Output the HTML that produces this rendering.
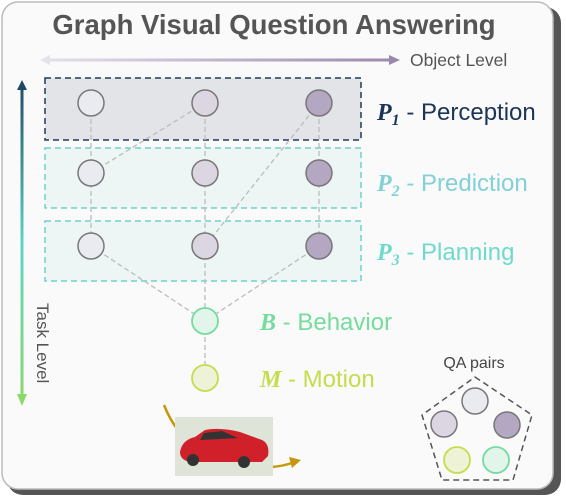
<!DOCTYPE html>
<html><head><meta charset="utf-8"><style>
html,body{margin:0;padding:0;background:#fff;width:566px;height:500px;overflow:hidden}
svg{display:block}
text{font-family:"Liberation Sans",sans-serif}
.m{font-family:"Liberation Serif",serif;font-style:italic;font-weight:bold}
</style></head><body>
<svg width="566" height="500" viewBox="0 0 566 500">
<defs>
<linearGradient id="oh" gradientUnits="userSpaceOnUse" x1="40" y1="0" x2="400" y2="0"><stop offset="0" stop-color="#e4e2ea"/><stop offset="1" stop-color="#9a88ac"/></linearGradient>
<linearGradient id="tv" gradientUnits="userSpaceOnUse" x1="0" y1="80" x2="0" y2="406"><stop offset="0" stop-color="#1f4866"/><stop offset="0.5" stop-color="#5fd4c8"/><stop offset="1" stop-color="#8cd86a"/></linearGradient>
</defs>
<rect x="7" y="7" width="554" height="488" rx="16" fill="#555"/>
<rect x="2" y="2" width="551" height="487" rx="16" fill="#fafafa" stroke="#bbb" stroke-width="1.5"/>
<text x="274" y="34" text-anchor="middle" font-size="27.5" font-weight="bold" fill="#555">Graph Visual Question Answering</text>
<line x1="47" y1="60" x2="392" y2="60" stroke="url(#oh)" stroke-width="3"/>
<polygon points="40,60 50,55 50,65" fill="#e4e2ea"/>
<polygon points="400,60 389,55 389,65" fill="#9a88ac"/>
<text x="410" y="66" font-size="17.5" fill="#555">Object Level</text>
<line x1="22" y1="88" x2="22" y2="396" stroke="url(#tv)" stroke-width="3"/>
<polygon points="22,80 17,90 27,90" fill="#1f4866"/>
<polygon points="22,406 17,394 27,394" fill="#8cd86a"/>
<text transform="translate(37,303) rotate(90)" font-size="17" fill="#555">Task Level</text>
<rect x="45" y="78" width="316" height="62" fill="#e3e4e8" stroke="#1f3a5a" stroke-width="1.5" stroke-dasharray="6,4"/>
<rect x="45" y="148" width="316" height="60" fill="#eef6f5" stroke="#6fd2cc" stroke-width="1.5" stroke-dasharray="6,4"/>
<rect x="45" y="221" width="316" height="60" fill="#eef6f5" stroke="#6fd2cc" stroke-width="1.5" stroke-dasharray="6,4"/>
<g stroke="#bbb" stroke-width="1.3" stroke-dasharray="5,3" fill="none">
<line x1="91" y1="103" x2="91" y2="246"/><line x1="205" y1="103" x2="205" y2="321"/><line x1="319" y1="103" x2="319" y2="246"/>
<line x1="205" y1="103" x2="91" y2="173"/><line x1="319" y1="103" x2="205" y2="246"/>
<line x1="91" y1="246" x2="205" y2="321"/><line x1="319" y1="246" x2="205" y2="321"/>
<line x1="205" y1="321" x2="205" y2="378"/>
</g>
<g stroke="#777" stroke-width="1.5">
<circle cx="91" cy="103" r="13" fill="#eaebf0"/><circle cx="205" cy="103" r="13" fill="#dcd6e2"/><circle cx="319" cy="103" r="13" fill="#b3a7c2"/>
<circle cx="91" cy="173" r="13" fill="#eaebf0"/><circle cx="205" cy="173" r="13" fill="#dcd6e2"/><circle cx="319" cy="173" r="13" fill="#b3a7c2"/>
<circle cx="91" cy="246" r="13" fill="#eaebf0"/><circle cx="205" cy="246" r="13" fill="#dcd6e2"/><circle cx="319" cy="246" r="13" fill="#b3a7c2"/>
</g>
<circle cx="205" cy="321" r="13" fill="#e2f5ea" stroke="#74dc9c" stroke-width="1.8"/>
<circle cx="205" cy="378" r="13" fill="#eef3d8" stroke="#c6dc4c" stroke-width="1.8"/>
<text x="377" y="120" font-size="24" fill="#1c3556"><tspan class="m">P</tspan><tspan class="m" font-size="16" dy="5">1</tspan><tspan dy="-5"> - Perception</tspan></text>
<text x="377" y="191" font-size="24" fill="#82d0d8"><tspan class="m">P</tspan><tspan class="m" font-size="16" dy="5">2</tspan><tspan dy="-5"> - Prediction</tspan></text>
<text x="377" y="260" font-size="24" fill="#6fdacc"><tspan class="m">P</tspan><tspan class="m" font-size="16" dy="5">3</tspan><tspan dy="-5"> - Planning</tspan></text>
<text x="260" y="330" font-size="24" fill="#74dc9c"><tspan class="m">B</tspan> - Behavior</text>
<text x="260" y="387" font-size="24" fill="#c6dc4c"><tspan class="m">M</tspan> - Motion</text>
<path d="M164,405 Q170,420 178,430" stroke="#c8960a" stroke-width="2.5" fill="none"/>
<path d="M272,467 Q283,466 292,463" stroke="#c8960a" stroke-width="2.5" fill="none"/>
<polygon points="301,460 289,457 292,468" fill="#c8960a"/>
<rect x="175" y="417" width="98" height="59" fill="#dfe4d8"/>
<path d="M180,452 Q182,440 195,437 L205,430 Q220,427 240,432 L262,440 Q270,444 268,456 L262,462 L190,462 Q180,460 180,452Z" fill="#d0202a"/>
<path d="M204,433 L222,431 L238,438 L200,440Z" fill="#333"/>
<circle cx="193" cy="460" r="6" fill="#333"/><circle cx="244" cy="462" r="6" fill="#333"/>
<text x="474" y="368" text-anchor="middle" font-size="16" fill="#444">QA pairs</text>
<polygon points="475,377 532,415 513,480 442,480 422,415" fill="none" stroke="#555" stroke-width="1.5" stroke-dasharray="6,4"/>
<g stroke="#777" stroke-width="1.5">
<circle cx="475" cy="401" r="13" fill="#eaebf0"/><circle cx="444" cy="424" r="13" fill="#dcd6e2"/><circle cx="507" cy="425" r="13" fill="#b3a7c2"/>
</g>
<circle cx="457" cy="460" r="13" fill="#eef3d8" stroke="#c6dc4c" stroke-width="1.8"/>
<circle cx="496" cy="460" r="13" fill="#e2f5ea" stroke="#74dc9c" stroke-width="1.8"/>
</svg>
</body></html>
